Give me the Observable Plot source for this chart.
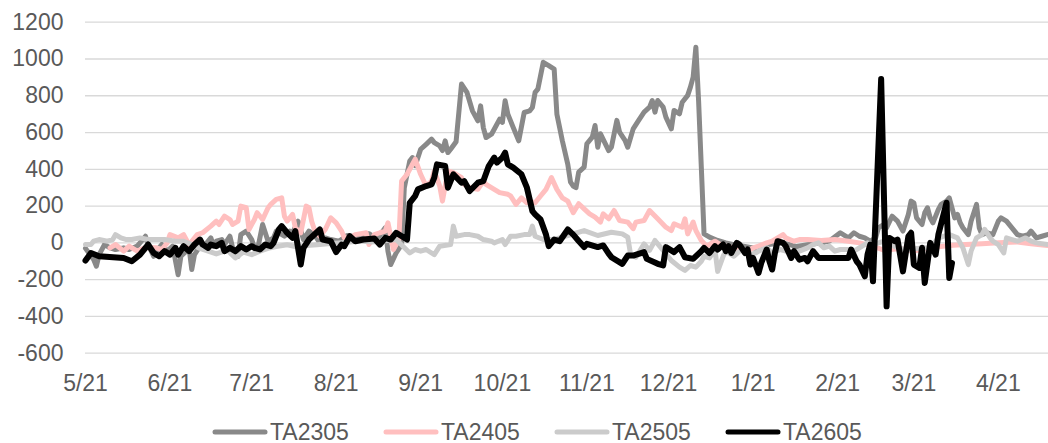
<!DOCTYPE html>
<html>
<head>
<meta charset="utf-8">
<script src="https://cdn.jsdelivr.net/npm/d3@7"></script>
<script src="https://cdn.jsdelivr.net/npm/@observablehq/plot@0.6"></script>
<style>
  html, body { margin: 0; padding: 0; background: #fff; overflow: hidden; width: 1048px; height: 443px; }
  #wrap { position: relative; width: 1048px; height: 443px; font-family: "Liberation Sans", Arial, sans-serif; }
  #legend { position: absolute; left: 212px; top: 416px; height: 32px; display: flex; align-items: center; }
  .item { width: 171px; flex: none; display: flex; align-items: center; font-size: 23px; color: #595959; }
  .item svg { margin-right: 2px; }
</style>
</head>
<body>
<div id="wrap"><div id="chart"></div><div id="legend"></div></div>
<script>
const seriesNames = ["TA2305", "TA2405", "TA2505", "TA2605"];
const seriesColors = ["#898989", "#ffbfbf", "#cbcbcb", "#000000"];
const seriesWidths = [5, 5, 5, 6];

const xTickLabels = ["5/21","6/21","7/21","8/21","9/21","10/21","11/21","12/21","1/21","2/21","3/21","4/21"];
const yTicks = [-600, -400, -200, 0, 200, 400, 600, 800, 1000, 1200];

const TA2305 = [["5/21",-30],["5/24",-91],["5/25",-127],["5/26",-64],["5/28",-9],["5/30",-27],["6/1",-36],["6/4",-27],["6/6",-36],["6/9",-18],["6/12",36],["6/13",-9],["6/15",-73],["6/16",-45],["6/18",-9],["6/20",-45],["6/22",-18],["6/24",-173],["6/25",-73],["6/27",-45],["6/28",-27],["6/29",-145],["6/30",-64],["7/2",-18],["7/4",-9],["7/6",27],["7/7",-18],["7/8",9],["7/10",18],["7/11",-9],["7/13",36],["7/14",-27],["7/16",-73],["7/17",45],["7/19",64],["7/21",18],["7/22",-27],["7/23",-45],["7/25",100],["7/27",9],["7/29",27],["7/30",64],["8/2",36],["8/4",64],["8/5",55],["8/7",118],["8/9",18],["8/11",64],["8/13",45],["8/15",0],["8/17",27],["8/19",18],["8/22",9],["8/25",40],["8/29",30],["9/2",50],["9/5",20],["9/8",82],["9/9",-45],["9/10",-118],["9/12",-55],["9/14",-9],["9/15",300],["9/17",445],["9/18",464],["9/19",420],["9/21",509],["9/23",536],["9/25",564],["9/26",545],["9/28",527],["9/29",502],["9/30",555],["10/1",491],["10/2",509],["10/4",550],["10/6",864],["10/8",818],["10/10",718],["10/12",664],["10/13",745],["10/14",627],["10/15",573],["10/17",591],["10/18",618],["10/20",673],["10/21",655],["10/22",773],["10/23",700],["10/25",627],["10/27",555],["10/29",709],["10/31",718],["11/1",736],["11/2",818],["11/3",836],["11/5",982],["11/7",964],["11/9",945],["11/10",700],["11/12",555],["11/14",427],["11/15",330],["11/16",309],["11/17",300],["11/18",385],["11/20",412],["11/21",539],["11/23",575],["11/24",638],["11/25",520],["11/26",593],["11/29",502],["11/30",520],["12/2",666],["12/3",602],["12/5",557],["12/6",520],["12/8",620],["12/10",666],["12/12",711],["12/14",738],["12/15",774],["12/16",711],["12/17",774],["12/19",738],["12/20",684],["12/22",620],["12/23",720],["12/25",702],["12/26",765],["12/28",802],["12/29",847],["12/30",901],["12/31",1064],["1/1",774],["1/2",412],["1/3",49],["1/5",31],["1/8",13],["1/11",0],["1/14",-10],["1/18",-20],["1/22",-30],["1/26",-10],["2/1",0],["2/6",-20],["2/10",-10],["2/15",0],["2/18",10],["2/22",55],["2/25",27],["2/27",55],["3/1",36],["3/3",27],["3/5",9],["3/7",27],["3/8",82],["3/10",100],["3/11",82],["3/13",145],["3/15",118],["3/17",64],["3/19",155],["3/20",227],["3/21",218],["3/22",136],["3/24",100],["3/25",164],["3/26",191],["3/27",136],["3/28",109],["3/30",182],["3/31",209],["4/2",227],["4/3",245],["4/5",136],["4/6",155],["4/7",109],["4/8",82],["4/10",45],["4/11",118],["4/13",209],["4/14",82],["4/15",45],["4/17",55],["4/19",45],["4/21",118],["4/22",136],["4/24",118],["4/26",82],["4/28",45],["4/30",36],["5/2",45],["5/3",64],["5/5",27],["5/7",36],["5/9",45]];

const TA2405 = [["5/30",-27],["6/1",-9],["6/4",-45],["6/6",-18],["6/9",-45],["6/12",-25],["6/16",-27],["6/18",-36],["6/20",0],["6/21",45],["6/24",27],["6/26",45],["6/28",-10],["7/1",45],["7/3",55],["7/6",91],["7/8",118],["7/9",100],["7/11",145],["7/13",127],["7/14",100],["7/16",118],["7/17",200],["7/19",191],["7/20",73],["7/22",127],["7/23",164],["7/25",127],["7/27",191],["7/28",209],["7/30",236],["8/1",245],["8/2",145],["8/3",118],["8/5",155],["8/6",82],["8/8",55],["8/10",200],["8/11",191],["8/12",118],["8/13",73],["8/15",36],["8/17",73],["8/19",136],["8/21",109],["8/23",64],["8/24",27],["8/26",27],["8/28",45],["9/1",55],["9/2",-9],["9/4",45],["9/6",55],["9/8",64],["9/9",109],["9/11",-36],["9/13",18],["9/14",336],["9/16",373],["9/19",455],["9/21",373],["9/23",309],["9/25",336],["9/26",391],["9/28",309],["9/29",227],["10/1",391],["10/3",382],["10/6",355],["10/7",318],["10/9",300],["10/12",291],["10/14",336],["10/15",318],["10/18",291],["10/20",273],["10/23",264],["10/24",255],["10/26",209],["10/28",245],["10/30",218],["10/31",227],["11/2",218],["11/4",255],["11/6",291],["11/8",355],["11/10",291],["11/12",245],["11/14",227],["11/16",164],["11/18",213],["11/20",185],["11/22",158],["11/24",140],["11/26",113],["11/27",158],["11/29",131],["12/1",176],["12/3",122],["12/6",113],["12/8",77],["12/9",113],["12/12",122],["12/14",176],["12/17",131],["12/20",85],["12/22",67],["12/23",104],["12/26",85],["12/27",131],["12/28",49],["12/30",113],["12/31",67],["1/2",13],["1/4",-18],["1/7",9],["1/9",-9],["1/11",-18],["1/14",-27],["1/16",-36],["1/19",-45],["1/21",-27],["1/23",-18],["1/26",0],["1/28",9],["2/1",45],["2/2",27],["2/5",9],["2/7",18],["2/10",18],["2/15",13],["2/20",18],["2/25",9],["3/1",0],["3/6",-18],["3/10",-40],["3/16",-31],["3/21",-45],["3/27",-27],["4/3",-14],["4/9",-9],["4/15",-5],["4/21",0],["4/28",5],["5/3",-5],["5/9",-14]];

const TA2505 = [["5/21",-9],["5/23",-9],["5/24",9],["5/26",18],["5/29",9],["5/31",18],["6/1",45],["6/3",27],["6/5",18],["6/7",18],["6/10",27],["6/13",18],["6/16",18],["6/19",18],["6/23",9],["6/26",9],["6/29",-9],["7/2",-30],["7/5",-45],["7/8",-60],["7/12",-40],["7/15",-82],["7/18",-50],["7/21",-64],["7/24",-45],["7/27",-30],["7/30",-20],["8/3",-10],["8/6",-20],["8/10",-15],["8/14",-10],["8/18",-5],["8/22",0],["8/26",5],["8/30",10],["9/3",5],["9/7",10],["9/12",18],["9/17",-55],["9/19",-36],["9/21",-45],["9/23",-36],["9/25",-55],["9/26",-64],["9/28",-18],["10/2",-9],["10/3",91],["10/4",36],["10/7",45],["10/9",45],["10/12",36],["10/14",18],["10/17",9],["10/18",0],["10/21",18],["10/22",-9],["10/24",36],["10/26",36],["10/29",45],["10/31",45],["11/1",91],["11/2",36],["11/5",18],["11/9",18],["11/11",27],["11/14",40],["11/20",67],["11/25",40],["11/30",58],["12/4",49],["12/6",31],["12/7",-59],["12/9",-78],["12/12",-5],["12/14",-41],["12/16",13],["12/18",-23],["12/22",-96],["12/25",-132],["12/27",-150],["12/29",-123],["12/31",-132],["1/2",-100],["1/3",-73],["1/5",-82],["1/7",-36],["1/8",-155],["1/10",-73],["1/11",-45],["1/14",-73],["1/16",-45],["1/18",-36],["1/20",-64],["1/22",-55],["1/23",-45],["1/26",-27],["1/28",-55],["1/31",-36],["2/2",-45],["2/5",-55],["2/7",-45],["2/10",-27],["2/12",-9],["2/14",0],["2/16",-27],["2/18",-18],["2/20",-45],["2/22",-36],["2/25",-36],["2/27",-45],["3/1",-27],["3/4",0],["3/6",-9],["3/10",10],["3/14",-20],["3/18",-40],["3/22",-30],["3/27",-27],["3/30",27],["4/3",45],["4/6",27],["4/8",-27],["4/10",-118],["4/11",-45],["4/13",27],["4/15",45],["4/16",73],["4/18",27],["4/19",9],["4/21",-9],["4/23",-55],["4/24",27],["4/26",18],["4/28",9],["5/1",27],["5/3",9],["5/5",0],["5/9",-9]];

const TA2605 = [["5/21",-96],["5/23",-55],["5/26",-73],["6/4",-82],["6/7",-100],["6/10",-64],["6/13",-9],["6/15",-55],["6/17",-73],["6/19",-45],["6/21",-64],["6/23",-27],["6/24",-64],["6/26",-18],["6/28",-45],["6/30",-9],["7/2",18],["7/3",-9],["7/5",-27],["7/6",-9],["7/8",-18],["7/10",0],["7/11",-45],["7/13",-27],["7/15",-45],["7/17",-18],["7/19",-36],["7/21",-18],["7/22",-27],["7/24",-36],["7/26",-9],["7/28",-18],["7/29",0],["7/31",73],["8/1",91],["8/3",55],["8/5",27],["8/6",64],["8/8",-118],["8/9",-27],["8/11",18],["8/13",45],["8/15",73],["8/16",18],["8/19",9],["8/21",-50],["8/23",-9],["8/24",-18],["8/26",36],["8/28",9],["8/31",18],["9/4",24],["9/6",-9],["9/8",27],["9/10",18],["9/12",55],["9/16",18],["9/17",218],["9/19",255],["9/20",291],["9/23",309],["9/25",318],["9/26",355],["9/27",427],["9/30",418],["10/1",300],["10/3",373],["10/6",327],["10/7",336],["10/9",282],["10/12",327],["10/14",336],["10/16",418],["10/18",464],["10/19",436],["10/21",464],["10/22",491],["10/23",427],["10/25",409],["10/28",373],["10/30",300],["11/1",173],["11/2",155],["11/4",127],["11/6",45],["11/7",-18],["11/9",18],["11/11",9],["11/14",73],["11/16",45],["11/18",10],["11/20",-23],["11/21",-5],["11/25",-23],["11/27",-14],["11/29",-59],["11/30",-78],["12/4",-114],["12/6",-69],["12/8",-69],["12/12",-50],["12/13",-87],["12/17",-114],["12/19",-123],["12/20",-23],["12/23",-50],["12/25",-23],["12/27",-78],["12/30",-87],["1/2",-45],["1/3",-27],["1/5",-55],["1/7",-18],["1/8",-36],["1/10",-9],["1/11",-45],["1/12",-18],["1/13",-55],["1/15",0],["1/16",-9],["1/18",-55],["1/19",-36],["1/20",-118],["1/21",-82],["1/23",-164],["1/24",-109],["1/26",-36],["1/27",-100],["1/28",-145],["1/29",-55],["1/30",9],["2/1",0],["2/2",-18],["2/4",-82],["2/5",-45],["2/7",-91],["2/9",-82],["2/10",-100],["2/12",-45],["2/14",-82],["2/25",-82],["2/26",-36],["2/28",-100],["3/1",-118],["3/3",-182],["3/4",-64],["3/5",-9],["3/6",-209],["3/9",891],["3/11",-345],["3/12",27],["3/14",9],["3/15",18],["3/17",-155],["3/19",36],["3/20",55],["3/21",-118],["3/23",-136],["3/24",-27],["3/25",-218],["3/27",0],["3/29",-64],["3/30",45],["4/2",218],["4/3",-191],["4/4",-109]];

const seriesData = [TA2305, TA2405, TA2505, TA2605];

// seasonal year: 5/21 .. 5/20 of the next year
function toDate(s) {
  const [m, d] = s.split("/").map(Number);
  const y = (m > 5 || (m === 5 && d >= 21)) ? 2022 : 2023;
  return new Date(y, m - 1, d);
}
const xTicks = xTickLabels.map(toDate);

const lineMarks = seriesData.map((data, i) =>
  Plot.line(data, {
    x: d => toDate(d[0]),
    y: d => d[1],
    stroke: seriesColors[i],
    strokeWidth: seriesWidths[i],
    strokeLinejoin: "round",
    strokeLinecap: "round"
  })
);

const chart = Plot.plot({
  width: 1048,
  height: 410,
  marginLeft: 85,
  marginRight: 0,
  marginTop: 21.7,
  marginBottom: 57.3,
  style: {
    fontFamily: "'Liberation Sans', Arial, sans-serif",
    fontSize: "23px",
    color: "#595959",
    background: "#ffffff",
    overflow: "visible"
  },
  x: {
    type: "time",
    domain: [new Date(2022, 4, 21), new Date(2023, 4, 9, 10)],
    ticks: xTicks,
    tickFormat: d3.timeFormat("%-m/%-d"),
    tickSize: 0,
    tickPadding: 21,
    label: null
  },
  y: {
    domain: [-600, 1200],
    ticks: yTicks,
    tickFormat: d => String(d),
    tickSize: 0,
    tickPadding: 22,
    label: null
  },
  marks: [
    Plot.ruleY(yTicks, {stroke: "#d9d9d9", strokeWidth: 1.3}),
    ...lineMarks
  ]
});
document.getElementById("chart").appendChild(chart);

const legend = document.getElementById("legend");
seriesNames.forEach((name, i) => {
  const item = document.createElement("div");
  item.className = "item";
  item.innerHTML = `<svg width="56" height="12"><line x1="3" y1="6" x2="53" y2="6" stroke="${seriesColors[i]}" stroke-width="5" stroke-linecap="round"/></svg><span>${name}</span>`;
  legend.appendChild(item);
});
</script>
</body>
</html>
